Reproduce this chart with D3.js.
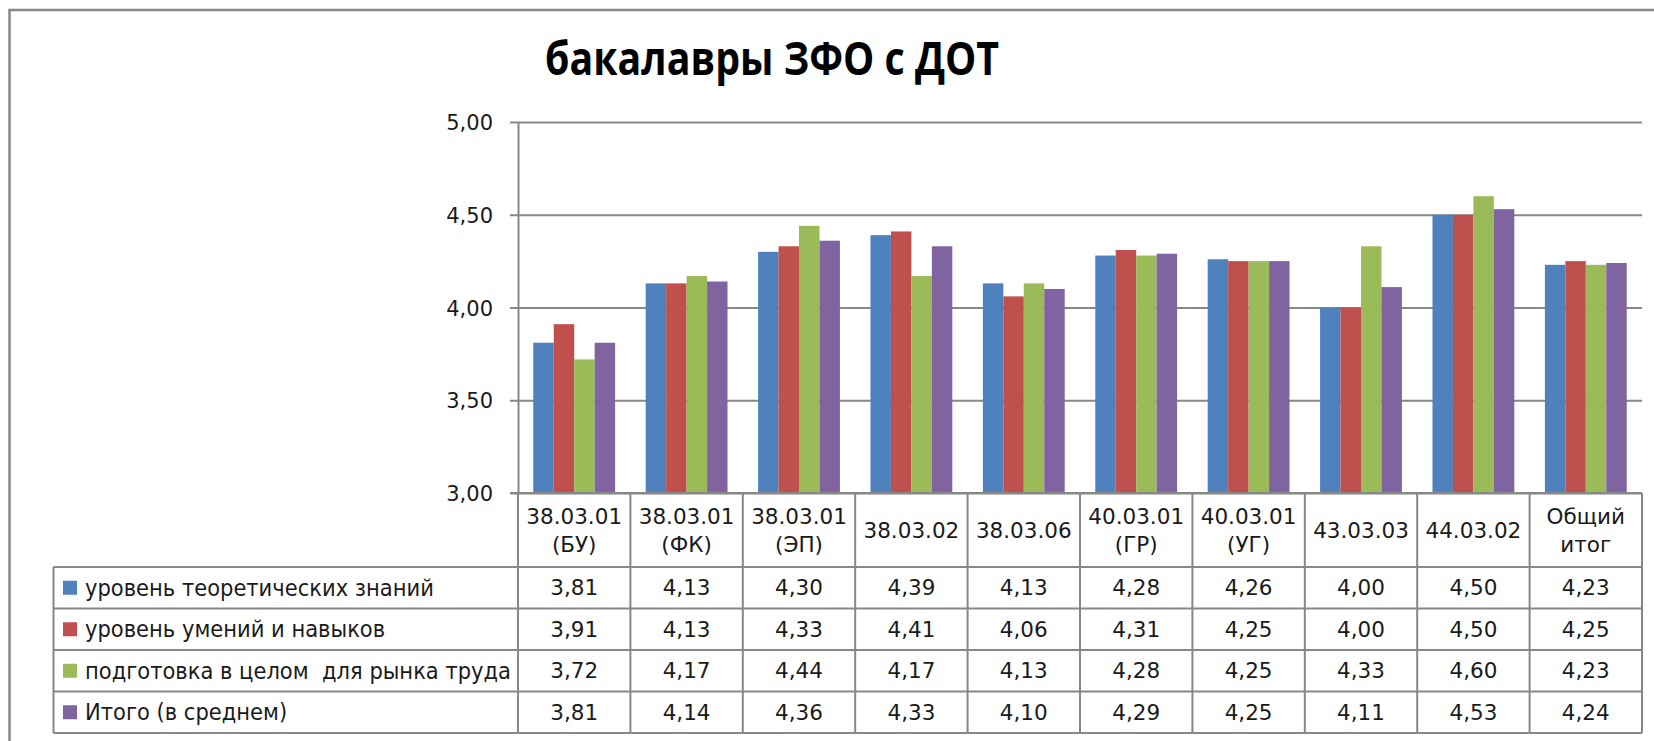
<!DOCTYPE html>
<html>
<head>
<meta charset="utf-8">
<script src="https://cdn.jsdelivr.net/npm/d3@7"></script>
<style>
  html, body { margin: 0; padding: 0; background: #fff; }
  svg { display: block; }
</style>
</head>
<body>
<svg id="chart" width="1654" height="741"></svg>
<script>
const title = "бакалавры ЗФО с ДОТ";
const categories = [
  ["38.03.01", "(БУ)"], ["38.03.01", "(ФК)"], ["38.03.01", "(ЭП)"], ["38.03.02"],
  ["38.03.06"], ["40.03.01", "(ГР)"], ["40.03.01", "(УГ)"], ["43.03.03"],
  ["44.03.02"], ["Общий", "итог"]
];
const seriesNames = [
  "уровень теоретических знаний",
  "уровень умений и навыков",
  "подготовка в целом  для рынка труда",
  "Итого (в среднем)"
];
const theory   = [3.81, 4.13, 4.30, 4.39, 4.13, 4.28, 4.26, 4.00, 4.50, 4.23];
const skills   = [3.91, 4.13, 4.33, 4.41, 4.06, 4.31, 4.25, 4.00, 4.50, 4.25];
const market   = [3.72, 4.17, 4.44, 4.17, 4.13, 4.28, 4.25, 4.33, 4.60, 4.23];
const total    = [3.81, 4.14, 4.36, 4.33, 4.10, 4.29, 4.25, 4.11, 4.53, 4.24];
const yTicks = [3.0, 3.5, 4.0, 4.5, 5.0];
const colors = ["#4F81BD", "#C0504D", "#9BBB59", "#8064A2"];

const seriesValues = [theory, skills, market, total];

const svg = d3.select("#chart");
const FONT = "'DejaVu Sans', sans-serif";
const GRID = "#878787";
const TXT = "#1a1a1a";

const locale = d3.formatLocale({decimal: ",", thousands: " ", grouping: [3], currency: ["", ""]});
const fmt = locale.format(".2f");

// layout
const plotLeft = 518, plotRight = 1642, plotTop = 122, plotBottom = 493;
const tableTop = 567, tableBottom = 733, tableLeft = 53.5;

// outer frame
svg.append("rect").attr("x", 9.5).attr("y", 10).attr("width", 1700).attr("height", 800)
  .attr("fill", "#fff").attr("stroke", GRID).attr("stroke-width", 2.5);

// title
svg.append("text").attr("x", 545).attr("y", 75)
  .attr("font-family", "'Open Sans', sans-serif").attr("font-weight", 700)
  .attr("font-size", 46).attr("fill", "#000")
  .attr("textLength", 454).attr("lengthAdjust", "spacingAndGlyphs")
  .text(title);

const catKeys = categories.map(c => c.join(" "));
const x = d3.scaleBand().domain(catKeys).range([plotLeft, plotRight]).paddingInner(0).paddingOuter(0);
const y = d3.scaleLinear().domain([3, 5]).range([plotBottom, plotTop]);
const xs = d3.scaleBand().domain(d3.range(seriesNames.length))
  .range([x.bandwidth() * 0.136, x.bandwidth() * 0.864]).padding(0);

// y axis with gridlines
const yAxis = d3.axisLeft(y).tickValues(yTicks).tickFormat(fmt)
  .tickSizeInner(-(plotRight - plotLeft)).tickSizeOuter(0).tickPadding(0);
const gy = svg.append("g").attr("transform", `translate(${plotLeft},0)`).call(yAxis);
gy.select(".domain").attr("stroke", GRID).attr("stroke-width", 2);
gy.selectAll(".tick line").attr("x1", -8).attr("stroke", GRID).attr("stroke-width", 2.2);
gy.selectAll(".tick text").attr("x", -25).attr("dy", "0.36em")
  .attr("font-family", FONT).attr("font-size", 21).attr("fill", TXT);

// bars
seriesValues.forEach((vals, si) => {
  svg.append("g").selectAll("rect").data(vals).join("rect")
    .attr("x", (d, i) => x(catKeys[i]) + xs(si))
    .attr("width", xs.bandwidth())
    .attr("y", d => y(d))
    .attr("height", d => y(3) - y(d))
    .attr("fill", colors[si]);
});

// x axis line
svg.append("line").attr("x1", plotLeft - 8).attr("x2", plotRight).attr("y1", plotBottom).attr("y2", plotBottom)
  .attr("stroke", GRID).attr("stroke-width", 2);

// data table
const rowY = d3.scaleBand().domain(d3.range(seriesNames.length)).range([tableTop, tableBottom]);
const tbl = svg.append("g").attr("stroke", GRID).attr("stroke-width", 2).attr("fill", "none");
catKeys.forEach(k => {
  tbl.append("line").attr("x1", x(k)).attr("x2", x(k)).attr("y1", plotBottom).attr("y2", tableBottom);
});
tbl.append("line").attr("x1", plotRight).attr("x2", plotRight).attr("y1", plotBottom).attr("y2", tableBottom);
d3.range(seriesNames.length + 1).forEach(i => {
  const yy = i < seriesNames.length ? rowY(i) : tableBottom;
  tbl.append("line").attr("x1", tableLeft).attr("x2", plotRight).attr("y1", yy).attr("y2", yy);
});
tbl.append("line").attr("x1", tableLeft).attr("x2", tableLeft).attr("y1", tableTop).attr("y2", tableBottom);

// header labels
const hdr = svg.append("g").attr("font-family", FONT).attr("font-size", 21.5).attr("fill", TXT)
  .attr("text-anchor", "middle");
categories.forEach((c, i) => {
  const cx = x(catKeys[i]) + x.bandwidth() / 2;
  const mid = (plotBottom + tableTop) / 2;
  const lineH = 28;
  c.forEach((line, li) => {
    const cy = mid + (li - (c.length - 1) / 2) * lineH;
    hdr.append("text").attr("x", cx).attr("y", cy).attr("dy", "0.36em").text(line);
  });
});

// legend rows and values
const rows = svg.append("g").attr("font-family", FONT).attr("font-size", 21.5).attr("fill", TXT);
const legendX = 85;
const legendTexts = [];
seriesNames.forEach((name, si) => {
  const cy = rowY(si) + rowY.bandwidth() / 2;
  rows.append("rect").attr("x", 63).attr("y", cy - 7).attr("width", 14).attr("height", 14).attr("fill", colors[si]);
  legendTexts.push(rows.append("text").attr("x", legendX).attr("y", cy).attr("dy", "0.36em")
    .attr("font-size", 22.5)
    .attr("xml:space", "preserve").style("white-space", "pre").text(name));
  seriesValues[si].forEach((v, ci) => {
    rows.append("text").attr("x", x(catKeys[ci]) + x.bandwidth() / 2).attr("y", cy)
      .attr("dy", "0.36em").attr("text-anchor", "middle").text(fmt(v));
  });
});
// fit legend texts uniformly into the label column
const maxW = plotLeft - legendX - 7;
const lens = legendTexts.map(t => t.node().getComputedTextLength());
const k = Math.min(1, maxW / d3.max(lens));
legendTexts.forEach((t, i) => {
  if (k < 1) t.attr("textLength", lens[i] * k).attr("lengthAdjust", "spacingAndGlyphs");
});
</script>
</body>
</html>
